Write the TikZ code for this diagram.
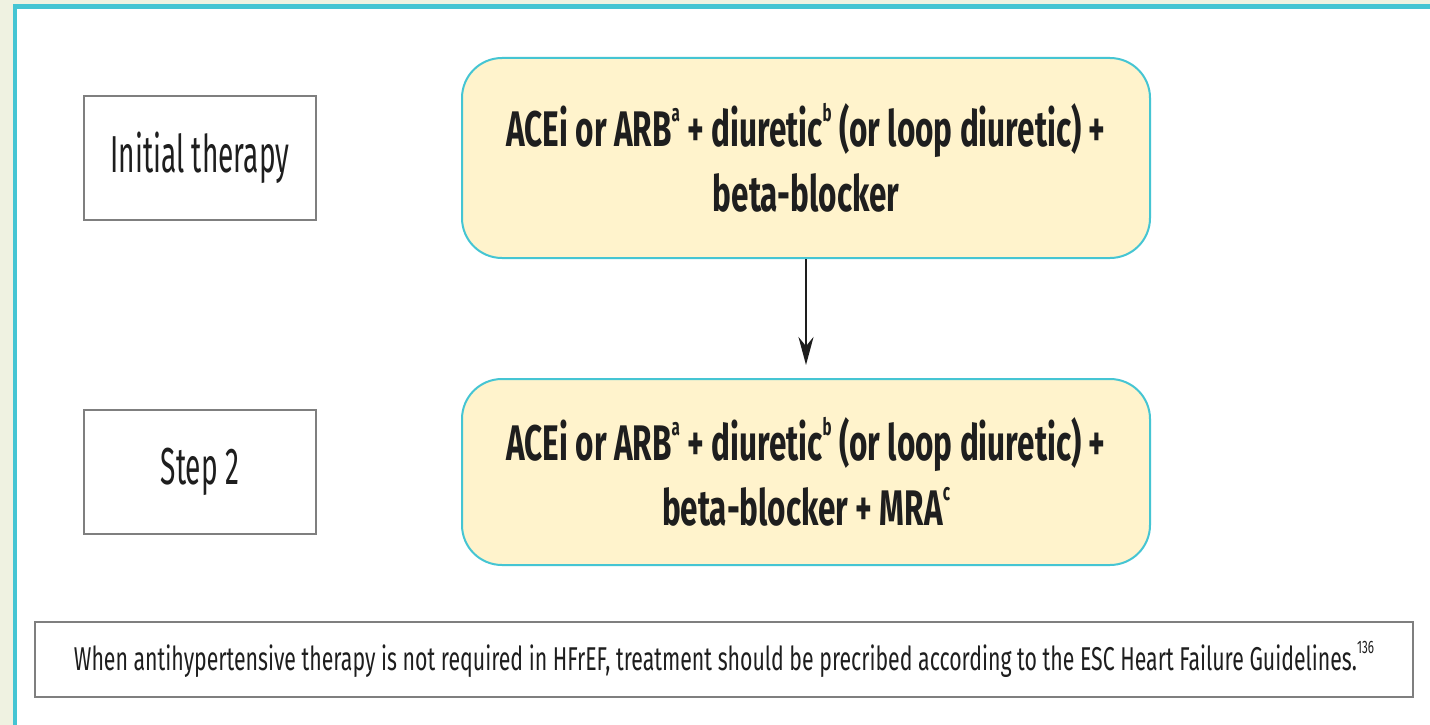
\documentclass[tikz,border=0pt]{standalone}
\usepackage{fontspec}
\setmainfont{Fira Sans}
\newfontfamily\labelfont{Fira Sans}[FakeStretch=0.54]
\newfontfamily\heavyfont{Fira Sans}[FakeStretch=0.63,UprightFont=* Bold]
\newfontfamily\notefont{Fira Sans}[FakeStretch=0.645]
\usetikzlibrary{arrows.meta}
\definecolor{pagebg}{HTML}{EFF2E1}
\definecolor{frame}{HTML}{45C5D3}
\definecolor{drugfill}{HTML}{FFF3CC}
\definecolor{boxgray}{HTML}{7F7F7F}
\definecolor{ink}{HTML}{1E1E1E}
\newcommand{\sups}[1]{\raisebox{0.5em}{\fontsize{24}{24}\selectfont #1}}
\tikzset{
  labelbox/.style={draw=boxgray, line width=2pt, fill=white, minimum width=232pt,
    minimum height=124pt, inner sep=0pt, text=ink,
    font=\labelfont\fontsize{52}{60}\selectfont},
  drugbox/.style={draw=frame, line width=2pt, fill=drugfill, rounded corners=40pt,
    minimum width=688pt, inner sep=0pt, align=center, text=ink,
    font=\heavyfont\fontsize{50}{65}\selectfont},
  notebox/.style={draw=boxgray, line width=2pt, fill=white, minimum width=1378pt,
    minimum height=75pt, inner sep=0pt, text=ink,
    font=\notefont\fontsize{33}{40}\selectfont},
  flow/.style={draw=ink, line width=2pt, -{Stealth[length=28pt,width=15pt]}}
}
\begin{document}
\begin{tikzpicture}[x=1pt,y=-1pt]
\useasboundingbox (0,0) rectangle (1430,725);
% page background and frame
\fill[pagebg] (0,0) rectangle (1430,725);
\fill[white] (17,9) rectangle (1430,725);
\fill[frame] (13,4) rectangle (1430,9);
\fill[frame] (13,4) rectangle (17,725);

% row labels
\node[labelbox] (init) at (200,158) {Initial therapy};
\node[labelbox] (step) at (200,471.5) {Step 2};

% treatment boxes
\node[drugbox, minimum height=200pt] (t1) at (806,158)
  {ACEi or ARB\sups{a} + diuretic\sups{b} (or loop diuretic) +\\ beta-blocker};
\node[drugbox, minimum height=186pt] (t2) at (806,472)
  {ACEi or ARB\sups{a} + diuretic\sups{b} (or loop diuretic) +\\ beta-blocker + MRA\sups{c}};

\draw[flow, shorten >=13pt] (t1.south) -- (t2.north);

% footnote
\node[notebox] (note) at (724,659.5)
  {When antihypertensive therapy is not required in HFrEF, treatment should be precribed according to the ESC Heart Failure Guidelines.\raisebox{0.5em}{\fontsize{18}{18}\selectfont 136}};
\end{tikzpicture}
\end{document}
